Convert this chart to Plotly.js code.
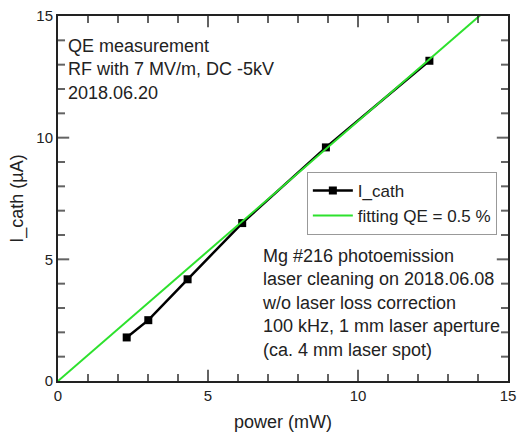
<!DOCTYPE html>
<html>
<head>
<meta charset="utf-8">
<script src="https://cdn.plot.ly/plotly-3.0.1.min.js"></script>
<style>html,body{margin:0;padding:0;background:#fff;}#chart{width:520px;height:432px;}</style>
</head>
<body>
<div id="chart"></div>
<script>
const powerMW = [2.29, 3.01, 4.32, 6.14, 8.93, 12.38];
const iCath = [1.79, 2.50, 4.18, 6.49, 9.60, 13.16];
const fitPower = [0, 15];
const fitCurrent = [0, 16.02];
const seriesNames = ["I_cath", "fitting QE = 0.5 %"];
const noteTop = ["QE measurement", "RF with 7 MV/m, DC -5kV", "2018.06.20"];
const noteBottom = ["Mg #216 photoemission", "laser cleaning on 2018.06.08", "w/o laser loss correction", "100 kHz, 1 mm laser aperture", "(ca. 4 mm laser spot)"];
const axisRange = [0, 15];
const majorStep = 5;
const minorStep = 1;

const FONT = "Liberation Sans, Arial, sans-serif";
const txtColor = "#222";

// tick mark positions built from the axis range (decoration, not data)
const tickPos = [];
for (let v = axisRange[0] + minorStep; v < axisRange[1]; v += minorStep) tickPos.push(v);
const tickSize = tickPos.map(v => (v % majorStep === 0) ? 16 : 10);
const lo = tickPos.map(() => axisRange[0]);
const hi = tickPos.map(() => axisRange[1]);

function tickTrace(xs, ys, sym) {
  return {x: xs, y: ys, type: "scatter", mode: "markers", showlegend: false, hoverinfo: "skip", cliponaxis: true,
          marker: {symbol: sym, size: tickSize, color: "#222", line: {color: "#222", width: 2}}};
}

const traces = [
  {x: powerMW, y: iCath, name: seriesNames[0], type: "scatter", mode: "lines+markers",
   line: {color: "#000", width: 2.5}, marker: {symbol: "square", size: 8, color: "#000"}},
  {x: fitPower, y: fitCurrent, name: seriesNames[1], type: "scatter", mode: "lines",
   line: {color: "rgb(45,225,45)", width: 2}},
  tickTrace(tickPos, lo, "line-ns"),
  tickTrace(tickPos, hi, "line-ns"),
  tickTrace(lo, tickPos, "line-ew"),
  tickTrace(hi, tickPos, "line-ew")
];

function makeAxis(titleText, standoff) {
  return {
    range: axisRange, dtick: majorStep, tick0: 0, ticks: "",
    showline: true, linecolor: "#222", linewidth: 2, mirror: true,
    showgrid: false, zeroline: false, tickfont: {family: FONT, size: 15, color: txtColor},
    title: {text: titleText, font: {family: FONT, size: 18, color: txtColor}, standoff: standoff}
  };
}

const layout = {
  width: 520, height: 432,
  margin: {l: 58, r: 12, t: 16, b: 51},
  paper_bgcolor: "#fff", plot_bgcolor: "#fff",
  font: {family: FONT, color: txtColor},
  xaxis: makeAxis("power (mW)", 14),
  yaxis: makeAxis("I_cath (µA)", 8),
  showlegend: true,
  legend: {x: 0.553, y: 0.573, xanchor: "left", yanchor: "top", bordercolor: "#999", borderwidth: 1,
           bgcolor: "#fff", font: {family: FONT, size: 17, color: txtColor}, tracegroupgap: 0, itemwidth: 40},
  annotations: [
    {xref: "paper", yref: "paper", x: 0.018, y: 0.952, xanchor: "left", yanchor: "top", align: "left",
     showarrow: false, text: noteTop.join("<br>"), font: {family: FONT, size: 18, color: txtColor}},
    {xref: "paper", yref: "paper", x: 0.449, y: 0.375, xanchor: "left", yanchor: "top", align: "left",
     showarrow: false, text: noteBottom.join("<br>"), font: {family: FONT, size: 18, color: txtColor}}
  ]
};

Plotly.newPlot("chart", traces, layout, {displayModeBar: false, staticPlot: true});
</script>
</body>
</html>
